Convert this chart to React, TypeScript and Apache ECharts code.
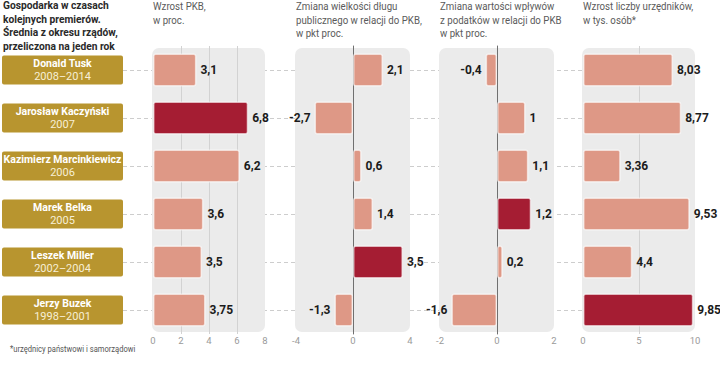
import React, { useEffect, useRef } from 'react';
import * as echarts from 'echarts';

// ---------- data ----------
const leaders = [
  'Donald Tusk',
  'Jarosław Kaczyński',
  'Kazimierz Marcinkiewicz',
  'Marek Belka',
  'Leszek Miller',
  'Jerzy Buzek',
];
const terms = ['2008–2014', '2007', '2006', '2005', '2002–2004', '1998–2001'];

const gdpGrowth = [3.1, 6.8, 6.2, 3.6, 3.5, 3.75];
const debtChange = [2.1, -2.7, 0.6, 1.4, 3.5, -1.3];
const taxChange = [-0.4, 1, 1.1, 1.2, 0.2, -1.6];
const officialsGrowth = [8.03, 8.77, 3.36, 9.53, 4.4, 9.85];

const gdpHighlight = 1;
const debtHighlight = 4;
const taxHighlight = 3;
const officialsHighlight = 5;

const gdpTicks = [0, 2, 4, 6, 8];
const debtTicks = [-4, 0, 4];
const taxTicks = [-2, 0, 2];
const officialsTicks = [0, 5, 10];

const titleText = 'Gospodarka w czasach\nkolejnych premierów.\nŚrednia z okresu rządów,\nprzeliczona na jeden rok';
const gdpHeader = 'Wzrost PKB,\nw proc.';
const debtHeader = 'Zmiana wielkości długu\npublicznego w relacji do PKB,\nw pkt proc.';
const taxHeader = 'Zmiana wartości wpływów\nz podatków w relacji do PKB\nw pkt proc.';
const officialsHeader = 'Wzrost liczby urzędników,\nw tys. osób*';
const footnote = '*urzędnicy państwowi i samorządowi';

// ---------- style ----------
const FONT = "Roboto, 'Liberation Sans', sans-serif";
const GOLD = '#b8952f';
const SALMON = '#de9886';
const DARK = '#a51d33';
const PANEL_BG = '#ebebeb';
const GRID_TOP = 46;
const GRID_H = 288;

const fmt = (v: number) => String(v).replace('.', ',');

type Panel = {
  values: number[];
  highlight: number;
  ticks: number[];
  left: number;
  width: number;
  zeroLine: boolean;
  header: string;
};

const panels: Panel[] = [
  { values: gdpGrowth, highlight: gdpHighlight, ticks: gdpTicks, left: 153, width: 112, zeroLine: false, header: gdpHeader },
  { values: debtChange, highlight: debtHighlight, ticks: debtTicks, left: 296, width: 114, zeroLine: true, header: debtHeader },
  { values: taxChange, highlight: taxHighlight, ticks: taxTicks, left: 440, width: 114, zeroLine: true, header: taxHeader },
  { values: officialsGrowth, highlight: officialsHighlight, ticks: officialsTicks, left: 583, width: 112, zeroLine: false, header: officialsHeader },
];

function buildOption() {
  const grid: any[] = [
    { left: 2, width: 121, top: GRID_TOP, height: GRID_H, outerBoundsMode: 'none' },
    { left: 123, width: 572, top: GRID_TOP, height: GRID_H, outerBoundsMode: 'none' },
  ];
  const xAxis: any[] = [
    { gridIndex: 0, type: 'value', min: 0, max: 1, show: false },
    { gridIndex: 1, type: 'value', min: 0, max: 1, show: false },
  ];
  const yAxis: any[] = [
    { gridIndex: 0, type: 'category', data: leaders, inverse: true, show: false },
    { gridIndex: 1, type: 'category', data: leaders, inverse: true, show: false },
  ];
  const series: any[] = [
    {
      type: 'bar',
      xAxisIndex: 0,
      yAxisIndex: 0,
      data: leaders.map(() => 1),
      barWidth: 29,
      silent: true,
      itemStyle: { color: GOLD, borderRadius: 2 },
      label: {
        show: true,
        position: 'inside',
        formatter: (p: any) => `{n|${leaders[p.dataIndex]}}\n{y|${terms[p.dataIndex]}}`,
        rich: {
          n: { fontFamily: FONT, fontWeight: 'bold', fontSize: 10.5, color: '#ffffff', lineHeight: 12.5, align: 'center' },
          y: { fontFamily: FONT, fontSize: 11, color: '#f7efd6', lineHeight: 12.5, align: 'center' },
        },
      },
    },
    {
      type: 'scatter',
      xAxisIndex: 1,
      yAxisIndex: 1,
      data: leaders.map((l) => [0, l]),
      symbolSize: 0,
      silent: true,
      z: -10,
      markLine: {
        silent: true,
        z: -10,
        symbol: 'none',
        label: { show: false },
        lineStyle: { type: [4, 3], color: '#cdcdcd', width: 1 },
        data: leaders.map((l) => ({ yAxis: l })),
      },
    },
  ];
  const graphic: any[] = [];

  panels.forEach((p, i) => {
    const gi = i + 2;
    grid.push({ left: p.left, width: p.width, top: GRID_TOP, height: GRID_H, outerBoundsMode: 'none' });
    const min = p.ticks[0];
    const max = p.ticks[p.ticks.length - 1];
    const interval = p.ticks[1] - p.ticks[0];
    xAxis.push({
      gridIndex: gi,
      type: 'value',
      min,
      max,
      interval,
      axisLine: { show: false },
      axisTick: { show: false },
      axisLabel: { fontFamily: FONT, fontSize: 9.5, color: '#9a9a9a', margin: 1 },
      splitLine: {
        show: !p.zeroLine,
        showMinLine: false,
        showMaxLine: false,
        lineStyle: { color: '#d2d2d2', width: 1 },
      },
    });
    yAxis.push({
      gridIndex: gi,
      type: 'category',
      data: leaders,
      inverse: true,
      axisLabel: { show: false },
      axisTick: { show: false },
      axisLine: { show: p.zeroLine, onZero: true, lineStyle: { color: '#707070', width: 1 } },
    });
    series.push({
      type: 'bar',
      xAxisIndex: gi,
      yAxisIndex: gi,
      barWidth: 33,
      silent: true,
      data: p.values.map((v, k) => ({
        value: v,
        itemStyle: { color: k === p.highlight ? DARK : SALMON },
        label: { position: v < 0 ? 'left' : 'right' },
      })),
      itemStyle: { borderColor: 'rgba(255,255,255,0.6)', borderWidth: 1.5, borderRadius: 2 },
      label: {
        show: true,
        distance: 4,
        formatter: (d: any) => fmt(d.value),
        fontFamily: FONT,
        fontWeight: 'bold',
        fontSize: 12,
        color: '#1b1b1b',
      },
    });
    graphic.push({
      type: 'rect',
      silent: true,
      z: -5,
      shape: { x: p.left - 1, y: 48, width: p.width + 1, height: 284, r: 7 },
      style: { fill: PANEL_BG },
    });
    graphic.push({
      type: 'text',
      silent: true,
      x: p.left,
      y: 0,
      scaleX: 0.88,
      style: {
        text: p.header,
        font: `11px ${FONT}`,
        fill: '#5a5a5a',
        lineHeight: 13.5,
        verticalAlign: 'top',
      },
    });
  });

  graphic.push({
    type: 'text',
    silent: true,
    x: 3,
    y: -1,
    scaleX: 0.89,
    style: {
      text: titleText,
      font: `bold 11.5px ${FONT}`,
      fill: '#2a2a2a',
      lineHeight: 13.5,
      verticalAlign: 'top',
    },
  });
  graphic.push({
    type: 'text',
    silent: true,
    x: 10,
    y: 349,
    scaleX: 0.8,
    style: {
      text: footnote,
      font: `9.5px ${FONT}`,
      fill: '#555555',
      verticalAlign: 'middle',
    },
  });

  return {
    animation: false,
    backgroundColor: '#ffffff',
    textStyle: { fontFamily: FONT },
    grid,
    xAxis,
    yAxis,
    series,
    graphic,
  };
}

export default function App() {
  const ref = useRef<HTMLDivElement>(null);
  useEffect(() => {
    if (!ref.current) return;
    const chart = echarts.init(ref.current, undefined, { renderer: 'svg' });
    chart.setOption(buildOption() as any);
    return () => chart.dispose();
  }, []);
  return <div ref={ref} style={{ width: 720, height: 371, position: 'absolute', left: 0, top: 0 }} />;
}
